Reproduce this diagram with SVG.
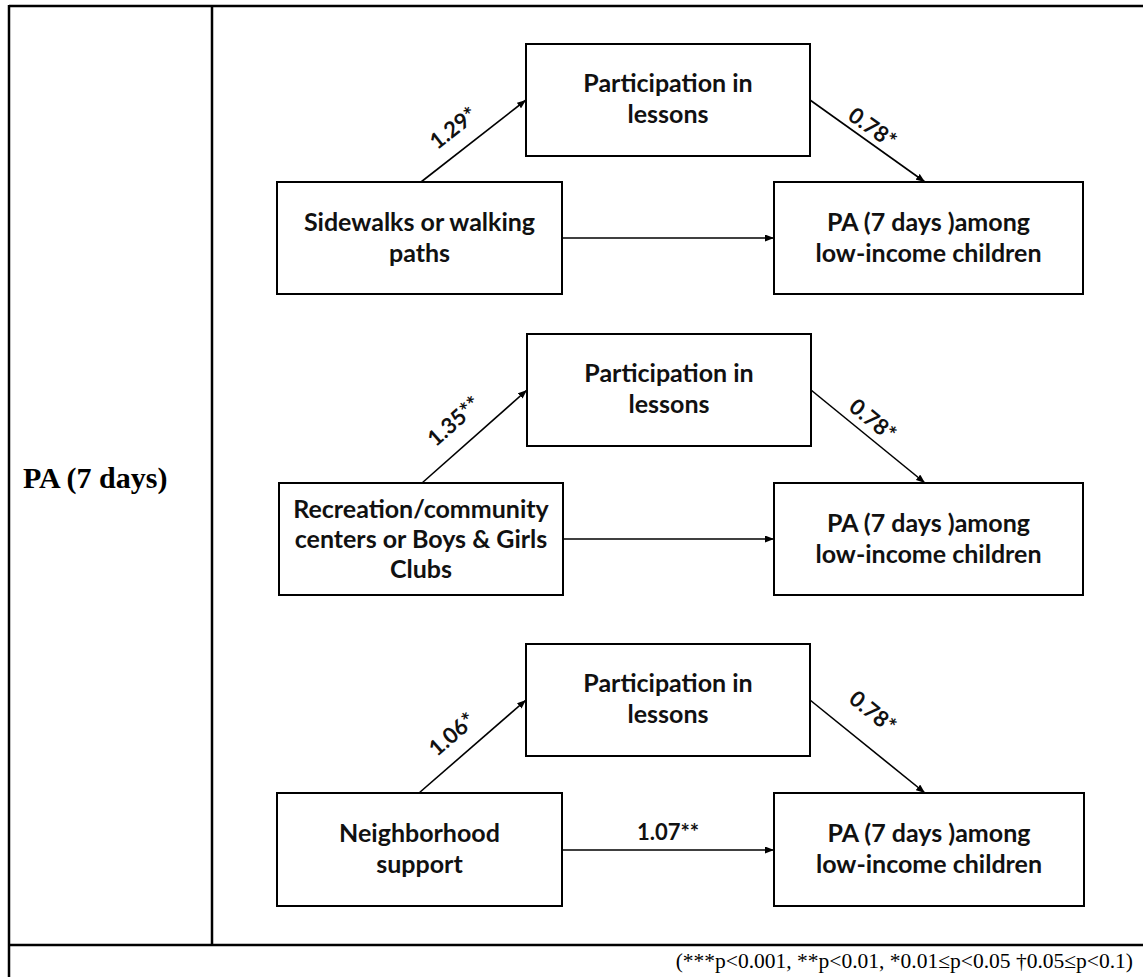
<svg xmlns="http://www.w3.org/2000/svg" width="1143" height="977" viewBox="0 0 1143 977">
  <style>
    .frame { stroke: #000; stroke-width: 2.5; fill: none; }
    .box { fill: #fff; stroke: #000; stroke-width: 2; }
    .lbl { font-family: Lato, "Liberation Sans", sans-serif; font-weight: bold; font-size: 25px; fill: #111; text-anchor: middle; }
    .coef { font-family: Lato, "Liberation Sans", sans-serif; font-weight: bold; font-size: 22px; fill: #111; text-anchor: middle; }
    .edge { stroke: #000; stroke-width: 1.6; fill: none; marker-end: url(#arrow); }
    .row { font-family: "Liberation Serif", "Times New Roman", serif; font-weight: bold; font-size: 30px; fill: #000; }
    .note { font-family: "Liberation Serif", "Times New Roman", serif; font-size: 21.5px; fill: #000; text-anchor: end; }
  </style>
  <defs>
    <marker id="arrow" markerUnits="userSpaceOnUse" markerWidth="9" markerHeight="7" refX="9" refY="3.5" orient="auto">
      <path d="M0,0 L9,3.5 L0,7 z" fill="#000"/>
    </marker>
  </defs>
  <rect width="1143" height="977" fill="#fff"/>

  <!-- table frame -->
  <g id="table">
    <line class="frame" x1="9" y1="6" x2="1143" y2="6"/>
    <line class="frame" x1="9" y1="5" x2="9" y2="977"/>
    <line class="frame" x1="212" y1="6" x2="212" y2="945"/>
    <line class="frame" x1="9" y1="945" x2="1143" y2="945"/>
    <text class="row" x="23" y="488">PA (7 days)</text>
    <text class="note" x="1133" y="968">(***p&lt;0.001, **p&lt;0.01, *0.01≤p&lt;0.05 †0.05≤p&lt;0.1)</text>
  </g>

  <!-- connectors -->
  <g id="connectors">
    <line class="edge" x1="421" y1="182" x2="526" y2="100"/>
    <line class="edge" x1="810" y1="100" x2="925" y2="182"/>
    <line class="edge" x1="562" y1="238" x2="774" y2="238"/>

    <line class="edge" x1="422" y1="483" x2="527" y2="390"/>
    <line class="edge" x1="811" y1="390" x2="925" y2="483"/>
    <line class="edge" x1="563" y1="539" x2="774" y2="539"/>

    <line class="edge" x1="419" y1="793" x2="526" y2="700"/>
    <line class="edge" x1="810" y1="700" x2="925" y2="793"/>
    <line class="edge" x1="562" y1="850" x2="774" y2="850"/>

    <text class="coef" transform="translate(458,134) rotate(-38)">1.29*</text>
    <text class="coef" transform="translate(868,134) rotate(35.5)">0.78*</text>
    <text class="coef" transform="translate(459,427) rotate(-41.5)">1.35**</text>
    <text class="coef" transform="translate(868,426) rotate(39)">0.78*</text>
    <text class="coef" transform="translate(457,740) rotate(-41)">1.06*</text>
    <text class="coef" transform="translate(868,718) rotate(39)">0.78*</text>
    <text class="coef" x="668" y="840">1.07**</text>
  </g>

  <!-- model 1: sidewalks -->
  <g id="lessons1">
    <rect class="box" x="526" y="44" width="284" height="112"/>
    <text class="lbl" x="668" y="92">Participation in</text>
    <text class="lbl" x="668" y="123">lessons</text>
  </g>
  <g id="sidewalks">
    <rect class="box" x="277" y="182" width="285" height="112"/>
    <text class="lbl" x="419.5" y="231">Sidewalks or walking</text>
    <text class="lbl" x="419.5" y="262">paths</text>
  </g>
  <g id="pa1">
    <rect class="box" x="774" y="182" width="309" height="112"/>
    <text class="lbl" x="928.5" y="231">PA (7 days )among</text>
    <text class="lbl" x="928.5" y="262">low-income children</text>
  </g>

  <!-- model 2: recreation centres -->
  <g id="lessons2">
    <rect class="box" x="527" y="334" width="284" height="112"/>
    <text class="lbl" x="669" y="382">Participation in</text>
    <text class="lbl" x="669" y="413">lessons</text>
  </g>
  <g id="recreation">
    <rect class="box" x="279" y="483" width="284" height="112"/>
    <text class="lbl" x="421" y="518">Recreation/community</text>
    <text class="lbl" x="421" y="548">centers or Boys &amp; Girls</text>
    <text class="lbl" x="421" y="578">Clubs</text>
  </g>
  <g id="pa2">
    <rect class="box" x="774" y="483" width="309" height="112"/>
    <text class="lbl" x="928.5" y="532">PA (7 days )among</text>
    <text class="lbl" x="928.5" y="563">low-income children</text>
  </g>

  <!-- model 3: neighborhood support -->
  <g id="lessons3">
    <rect class="box" x="526" y="644" width="284" height="112"/>
    <text class="lbl" x="668" y="692">Participation in</text>
    <text class="lbl" x="668" y="723">lessons</text>
  </g>
  <g id="neighborhood">
    <rect class="box" x="277" y="793" width="285" height="113"/>
    <text class="lbl" x="419.5" y="842">Neighborhood</text>
    <text class="lbl" x="419.5" y="873">support</text>
  </g>
  <g id="pa3">
    <rect class="box" x="774" y="793" width="310" height="113"/>
    <text class="lbl" x="929" y="842">PA (7 days )among</text>
    <text class="lbl" x="929" y="873">low-income children</text>
  </g>
</svg>
